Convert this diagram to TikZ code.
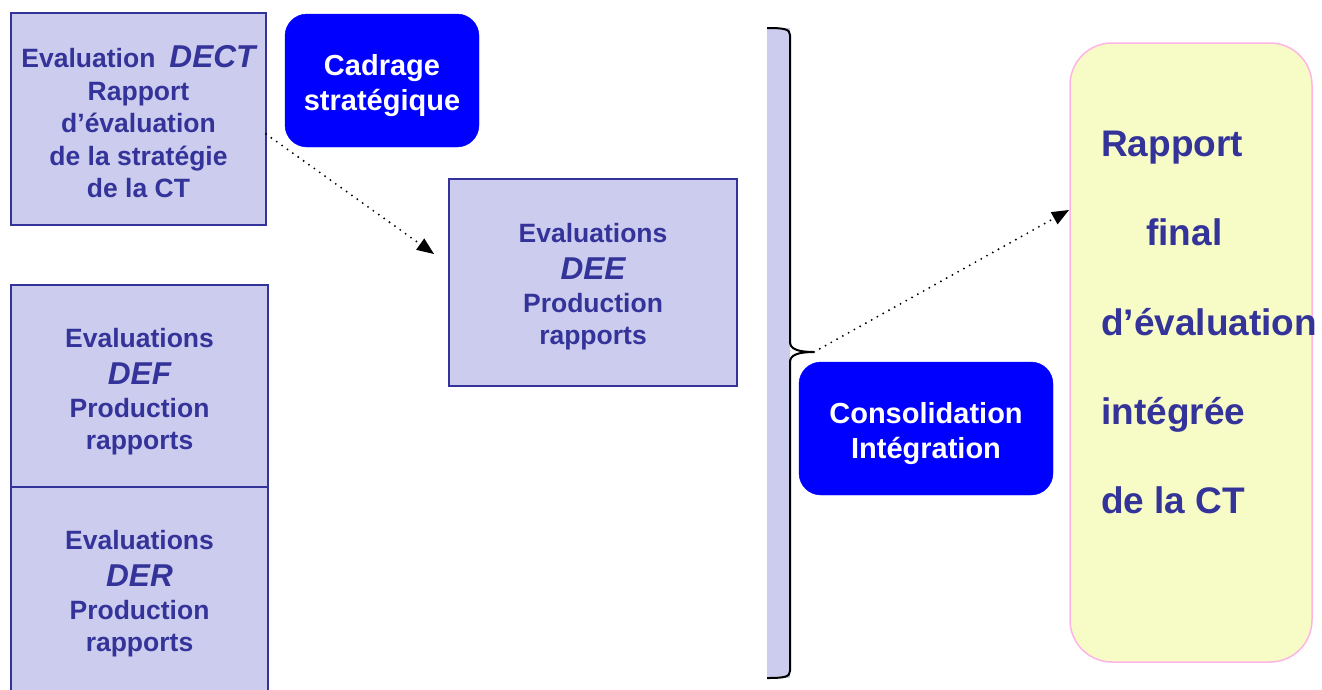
\documentclass[tikz,border=0pt]{standalone}
\usepackage{fontspec}
\setmainfont{Liberation Sans}
\usetikzlibrary{arrows.meta}
\definecolor{evfill}{RGB}{204,204,238}
\definecolor{evline}{RGB}{51,51,153}
\definecolor{cblue}{RGB}{0,0,255}
\definecolor{yfill}{RGB}{247,252,198}
\definecolor{ypink}{RGB}{255,180,230}
\begin{document}
\begin{tikzpicture}[x=1pt,y=-1pt,
  evbox/.style={rectangle, draw=evline, line width=2.2pt, fill=evfill, text=evline,
    align=center, inner sep=0pt, font=\fontsize{26.5}{32.5}\selectfont\bfseries},
  bluebox/.style={rectangle, rounded corners=22pt, fill=cblue, draw=cblue, text=white,
    align=center, inner sep=0pt, font=\fontsize{29}{35}\selectfont\bfseries},
  finalbox/.style={rectangle, rounded corners=42pt, fill=yfill, draw=ypink, line width=1.5pt, inner sep=0pt},
  finaltext/.style={inner sep=0pt, align=left, text=evline, font=\fontsize{37}{89.25}\selectfont\bfseries},
  barbox/.style={rectangle, fill=evfill, inner sep=0pt},
  bracepath/.style={line width=2pt, black},
  dotarrow/.style={line width=2.1pt, dash pattern=on 0pt off 6.6pt, line cap=round,
    -{Triangle[length=17pt,width=14pt,line width=0pt]}}
]
\useasboundingbox (0,0) rectangle (1322,689);
\fill[white] (0,0) rectangle (1322,689);

% left column
\node[evbox, minimum width=255, minimum height=212] (dect) at (138.5,119)
  {\fontsize{26.5}{32}\selectfont\rule{0pt}{28pt}Evaluation\hspace{14pt}{\fontsize{31.6}{32}\selectfont\itshape DECT}\\ Rapport\\ d’évaluation\\ de la stratégie\\ de la CT};
\node[evbox, minimum width=257, minimum height=202] (def) at (139.5,386)
  {\rule{0pt}{30.5pt}Evaluations\\[5pt] {\fontsize{31.6}{32.5}\selectfont\itshape DEF}\\ Production\\ rapports};
\node[evbox, minimum width=257, minimum height=213] (der) at (139.5,593.5)
  {Evaluations\\[5pt] {\fontsize{31.6}{32.5}\selectfont\itshape DER}\\ Production\\ rapports};

% middle
\node[bluebox, minimum width=194, minimum height=133] (cad) at (382,80.5)
  {\rule{0pt}{32pt}Cadrage\\ stratégique};
\node[evbox, minimum width=288, minimum height=207] (dee) at (593,282.5)
  {\rule{0pt}{27pt}Evaluations\\[5pt] {\fontsize{31.6}{32.5}\selectfont\itshape DEE}\\ Production\\ rapports};

% bracket bar
\node[barbox, minimum width=23, minimum height=650] (bar) at (778.5,353) {};
\coordinate (tip) at (814,352);
\draw[bracepath] (767,28) .. controls (784,28) and (790,29) .. (790,35) -- (790,342)
  .. controls (790,349) and (798,352) .. (tip)
  .. controls (798,352) and (790,355) .. (790,362) -- (790,671)
  .. controls (790,677) and (784,678) .. (767,678);

\node[bluebox, minimum width=254, minimum height=133] (cons) at (926,428.5)
  {\rule{0pt}{31pt}Consolidation\\ Intégration};

% final report
\node[finalbox, minimum width=242, minimum height=619] (final) at (1191,352.5) {};
\node[finaltext, anchor=north west] (finaltxt) at (1101,131)
  {Rapport\\ \hspace*{45pt}final\\ d’évaluation\\ intégrée\\ de la CT};

% connectors
\coordinate (a1s) at (266,134);
\coordinate (a1e) at (434,254);
\draw[dotarrow] (a1s) -- (a1e);
\coordinate (a2e) at (1069,210);
\draw[dotarrow] (tip) -- (a2e);
\end{tikzpicture}
\end{document}
